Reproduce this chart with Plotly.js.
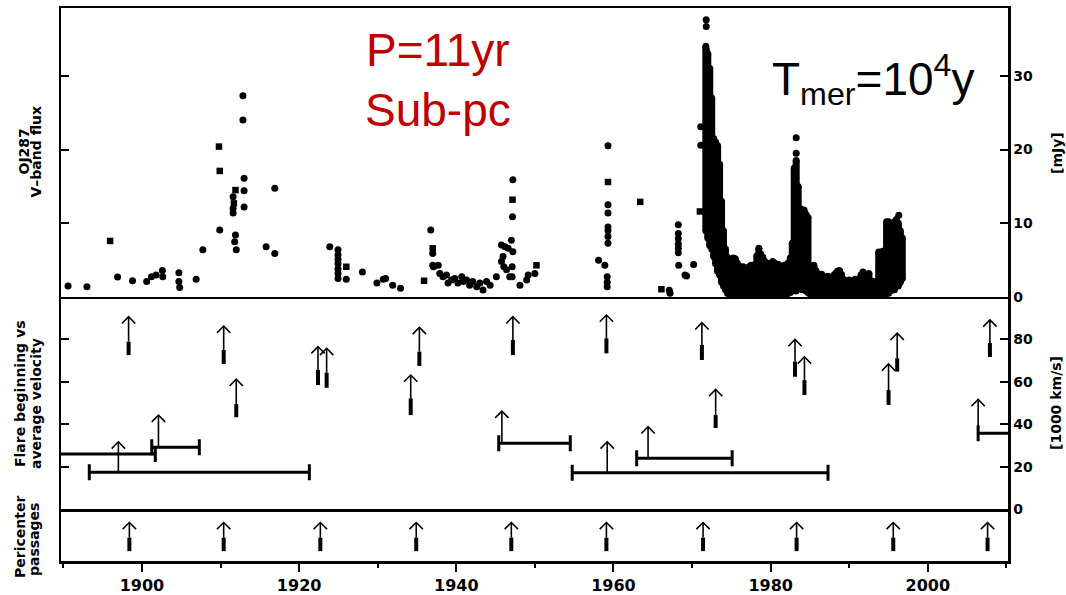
<!DOCTYPE html>
<html><head><meta charset="utf-8">
<script src="https://cdn.plot.ly/plotly-3.0.1.min.js"></script>
<style>html,body{margin:0;padding:0;background:#fff}#chart{width:1066px;height:595px}</style>
</head><body><div id="chart"></div>
<script>
// ---------- Top panel: OJ287 V-band flux [mJy] ----------
const fluxYear = [1890.6,1893.0,1896.9,1898.8,1900.6,1901.2,1901.8,1902.6,1902.65,1904.7,1904.7,1904.8,1906.9,1907.75,1909.9,
  1911.6,1911.6,1911.6,1911.9,1911.8,1912.0,1912.85,1912.85,1913.0,1913.0,1913.0,1915.8,1916.9,1916.9,
  1923.9,1924.95,1924.95,1924.95,1924.95,1924.95,1924.95,1924.95,1926.0,1928.05,1929.9,1930.7,1931.0,1931.9,1932.9,
  1936.75,1937.0,1937.0,1937.1,1937.7,1937.9,1938.3,1938.75,1938.95,1939.4,1939.8,1940.2,1940.7,1940.9,1941.3,1941.7,1942.1,1942.6,1943.0,1943.4,1943.85,1944.3,
  1945.1,1945.75,1946.2,1946.6,1945.95,1945.75,1946.05,1946.4,1946.8,1947.0,1947.2,1947.15,1947.2,1947.1,1947.1,1948.1,1948.95,1949.15,1950.0,
  1958.1,1958.9,1959.3,1959.3,1959.3,1959.3,1959.3,1959.3,1959.3,1959.2,1959.2,1959.2,
  1967.2,1967.1,1968.25,1968.25,1968.25,1968.25,1968.25,1968.25,1968.3,1969.1,1969.3,1970.2,
  1971.1,1971.1,1971.8,1971.8,1971.8,1983.25,1983.25,1996.3];
const fluxVal = [1.5,1.4,2.7,2.2,2.1,2.75,3.0,3.6,2.75,3.3,2.1,1.3,2.4,6.4,9.1,
  13.6,12.0,11.4,8.4,7.5,6.4,27.3,24.0,16.1,14.4,12.2,6.8,14.75,5.9,
  6.8,6.4,5.7,5.1,4.5,3.8,3.2,2.5,2.4,3.4,1.9,2.4,2.5,1.6,1.2,
  9.1,5.9,4.3,4.1,4.3,3.2,2.75,3.0,1.9,2.3,2.5,1.9,2.75,2.1,2.3,1.6,2.1,1.4,1.9,0.95,2.1,1.6,
  2.75,7.05,6.8,6.6,5.5,4.8,4.1,3.7,2.75,7.7,15.9,10.9,6.15,4.1,2.75,1.6,2.3,3.0,3.2,
  5.0,4.3,20.5,12.5,11.4,9.5,9.0,8.2,7.3,2.75,2.0,1.4,
  0.5,0.9,9.8,8.6,7.9,7.2,6.6,6.0,4.3,3.0,2.85,4.4,
  23.1,20.6,37.6,36.7,33.5,21.6,19.5,11.1];
const sqYear = [1895.95,1909.8,1909.9,1911.7,1911.9,1926.0,1935.9,1937.0,1947.15,1950.2,1959.3,1963.4,1966.1,1971.0];
const sqVal  = [7.6,20.4,17.1,12.7,14.5,4.1,2.2,6.6,13.2,4.3,15.6,12.9,1.05,11.6];
// densely monitored seasons 1971-1997: lowest / highest flux per quarter-year
const denseYear = [1971.75,1972.0,1972.25,1972.5,1972.75,1973.0,1973.25,1973.5,1973.75,1974.0,1974.25,1974.5,1974.75,
  1975.0,1975.25,1975.5,1975.75,1976.0,1976.25,1976.5,1976.75,1977.0,1977.25,1977.5,1977.75,1978.0,1978.25,1978.5,1978.75,
  1979.0,1979.25,1979.5,1979.75,1980.0,1980.25,1980.5,1980.75,1981.0,1981.25,1981.5,1981.75,1982.0,1982.25,1982.5,1982.75,
  1983.0,1983.25,1983.5,1983.75,1984.0,1984.25,1984.5,1984.75,1985.0,1985.25,1985.5,1985.75,1986.0,1986.25,1986.5,1986.75,
  1987.0,1987.25,1987.5,1987.75,1988.0,1988.25,1988.5,1988.75,1989.0,1989.25,1989.5,1989.75,1990.0,1990.25,1990.5,1990.75,
  1991.0,1991.25,1991.5,1991.75,1992.0,1992.25,1992.5,1992.75,1993.0,1993.25,1993.5,1993.75,1994.0,1994.25,1994.5,1994.75,
  1995.0,1995.25,1995.5,1995.75,1996.0,1996.25,1996.5,1996.75];
const denseHi = [34.0,33.0,31.0,27.0,21.5,21.0,20.5,18.0,13.0,9.0,6.5,5.4,5.0,
  4.8,5.3,5.2,4.6,4.2,3.9,4.1,3.7,3.9,4.1,4.3,4.0,4.4,5.6,6.6,5.8,
  5.4,4.8,4.6,4.2,4.5,4.8,4.6,4.1,4.4,4.0,3.8,4.3,4.1,4.6,5.3,7.3,
  17.5,18.5,15.0,12.0,11.5,11.8,11.2,10.8,4.0,4.1,4.3,3.6,3.2,2.9,3.1,2.7,
  2.5,2.8,2.4,2.6,2.9,3.2,3.5,3.6,3.1,2.4,2.2,2.0,2.3,1.9,2.2,2.4,
  2.0,2.3,3.0,3.4,3.1,2.8,3.2,2.2,1.9,2.1,2.0,6.1,6.0,6.2,6.0,10.2,
  10.2,10.0,6.0,10.2,10.5,10.0,9.0,8.0];
const denseLo = [9.0,8.0,7.0,6.5,5.5,4.5,3.5,3.0,2.0,1.5,1.0,0.5,0.3,
  0.2,0.4,0.2,0.3,0.5,0.3,0.2,0.4,0.2,0.5,0.3,0.4,0.2,0.5,0.4,0.3,
  0.5,0.3,0.2,0.4,0.3,0.5,0.2,0.4,0.3,0.5,0.2,0.4,0.3,0.5,0.6,0.8,
  1.0,0.8,1.2,1.5,1.0,1.2,0.8,0.6,0.4,0.3,0.2,0.4,0.3,0.5,0.2,0.4,
  0.3,0.4,0.2,0.5,0.3,0.2,0.4,0.3,0.5,0.3,0.2,0.4,0.3,0.5,0.2,0.3,
  0.4,0.2,0.3,0.5,0.3,0.2,0.4,0.3,0.2,0.4,0.3,0.5,0.3,0.4,0.3,0.5,
  0.5,0.8,1.0,1.0,1.5,1.5,2.0,2.5];

// ---------- Middle panel: flare beginning vs average velocity [1000 km/s] ----------
const flareYear  = [1898.3,1910.4,1912.0,1922.4,1923.5,1935.3,1934.2,1947.2,1959.1,1971.25,1973.0,1983.1,1984.3,1996.1,1995.0,2007.9,1897.0,1902.1,1945.8,1959.2,1964.4,2006.4];
const flareBase  = [72.6,68.4,43.3,58.5,57.2,67.5,44.3,72.6,73.4,70.3,38.2,62.4,53.8,64.8,49.1,71.7,17.3,29.1,31.0,17.1,23.9,35.7];
const flareThick = [78.9,75.0,49.5,65.6,64.3,74.2,52.2,79.7,80.5,77.4,44.3,69.5,60.8,71.1,56.1,78.3,17.3,29.1,31.0,17.1,23.9,35.7];
const flareTip   = [90.7,86.3,61.2,76.6,75.8,85.7,63.2,90.7,91.5,87.9,56.4,80.0,71.8,82.9,68.4,89.2,31.7,44.3,46.2,31.7,38.8,51.7];
const barLo  = [1885.0,1901.25,1893.3,1945.4,1954.75,1962.95,2006.4];
const barHi  = [1901.7,1907.3,1921.3,1954.5,1987.3,1975.1,2015.0];
const barVel = [25.9,29.1,17.3,31.0,17.1,23.9,35.7];

// ---------- Bottom panel: pericenter passages ----------
const periYear = [1898.4,1910.4,1922.7,1934.9,1947.0,1959.1,1971.4,1983.3,1995.6,2007.6];

// ---------- Axis ticks ----------
const xTicks = [1900,1920,1940,1960,1980,2000];
const xTickText = ['1900','1920','1940','1960','1980','2000'];
const xMinor = [1890,1910,1930,1950,1970,1990,2010];
const fluxTicks = [0,10,20,30];
const velTicks = [0,20,40,60,80];

// ---------- helpers ----------
function segs(xs, y0, y1) {
  const X = [], Y = [];
  xs.forEach((x, i) => { X.push(x, x, null); Y.push(y0[i], y1[i], null); });
  return {X, Y};
}
function chev(xs, tips, dx, dy) {
  const X = [], Y = [];
  xs.forEach((x, i) => { X.push(x - dx, x, x + dx, null); Y.push(tips[i] - dy, tips[i], tips[i] - dy, null); });
  return {X, Y};
}
const K = '#000';
const dense = segs(denseYear, denseLo, denseHi);
const fStem = segs(flareYear, flareThick, flareTip);
const fThick = segs(flareYear, flareBase, flareThick);
const fHead = chev(flareYear, flareTip, 0.85, 3.2);
const pB = periYear.map(() => 0.19), pT = periYear.map(() => 0.45), pTip = periYear.map(() => 0.74);
const pStem = segs(periYear, pT, pTip);
const pThick = segs(periYear, pB, pT);
const pHead = chev(periYear, pTip, 0.85, 0.127);

const traces = [
  {x: dense.X, y: dense.Y, xaxis: 'x', yaxis: 'y', mode: 'lines+markers', line: {color: K, width: 7},
   marker: {color: K, size: 7}, connectgaps: false, hoverinfo: 'skip'},
  {x: fluxYear, y: fluxVal, xaxis: 'x', yaxis: 'y', mode: 'markers', marker: {color: K, size: 7, symbol: 'circle'}},
  {x: sqYear, y: sqVal, xaxis: 'x', yaxis: 'y', mode: 'markers', marker: {color: K, size: 6.5, symbol: 'square'}},
  {x: barLo, y: barVel, xaxis: 'x2', yaxis: 'y2', mode: 'markers', marker: {color: 'rgba(0,0,0,0)', size: 1},
   error_x: {type: 'data', symmetric: false, array: barHi.map((h, i) => h - barLo[i]), arrayminus: barLo.map(() => 0),
     color: K, thickness: 3, width: 8}},
  {x: fStem.X, y: fStem.Y, xaxis: 'x2', yaxis: 'y2', mode: 'lines', line: {color: K, width: 1.6}},
  {x: fThick.X, y: fThick.Y, xaxis: 'x2', yaxis: 'y2', mode: 'lines', line: {color: K, width: 4}},
  {x: fHead.X, y: fHead.Y, xaxis: 'x2', yaxis: 'y2', mode: 'lines', line: {color: K, width: 1.6}},
  {x: pStem.X, y: pStem.Y, xaxis: 'x3', yaxis: 'y3', mode: 'lines', line: {color: K, width: 1.6}},
  {x: pThick.X, y: pThick.Y, xaxis: 'x3', yaxis: 'y3', mode: 'lines', line: {color: K, width: 4}},
  {x: pHead.X, y: pHead.Y, xaxis: 'x3', yaxis: 'y3', mode: 'lines', line: {color: K, width: 1.6}}
];

const xr = [1889.7, 2010.2];
const tickF = {family: 'DejaVu Sans', size: 14, weight: 'bold', color: K};
const baseX = {range: xr, showline: true, mirror: false, linewidth: 2.5, linecolor: K, showgrid: false, zeroline: false,
  ticks: '', showticklabels: false, fixedrange: true};
const baseY = {side: 'right', showline: true, mirror: 'ticks', linewidth: 2.5, linecolor: K, showgrid: false, zeroline: false,
  ticks: 'inside', ticklen: 8, tickwidth: 2, tickcolor: K, tickfont: tickF, tickmode: 'array', fixedrange: true};
const titleF = {family: 'DejaVu Sans', size: 14, weight: 'bold', color: K};
function ttl(text, px, py) {
  return {text: text, xref: 'paper', yref: 'paper', x: (px - 61) / 947, y: 1 - (py - 8) / 553,
    xanchor: 'center', yanchor: 'middle', textangle: -90, showarrow: false, font: titleF};
}
const bigF = {family: 'Liberation Sans, Arial, sans-serif', size: 46};
const layout = {
  width: 1066, height: 595, margin: {l: 61, r: 58, t: 8, b: 34}, showlegend: false,
  paper_bgcolor: '#fff', plot_bgcolor: '#fff',
  xaxis: Object.assign({}, baseX, {anchor: 'y', mirror: true}),
  xaxis2: Object.assign({}, baseX, {anchor: 'y2'}),
  xaxis3: Object.assign({}, baseX, {anchor: 'y3', ticks: 'outside', showticklabels: true, tickmode: 'array',
    tickvals: xTicks, ticktext: xTickText, ticklen: 8, tickwidth: 2, tickcolor: K,
    tickfont: {family: 'DejaVu Sans', size: 16, weight: 'bold', color: K},
    minor: {tickmode: 'array', tickvals: xMinor, ticks: 'outside', ticklen: 4, tickwidth: 2, tickcolor: K}}),
  yaxis: Object.assign({}, baseY, {anchor: 'x', domain: [0.4774, 1], range: [0, 39.2], tickvals: fluxTicks}),
  yaxis2: Object.assign({}, baseY, {anchor: 'x2', domain: [0.094, 0.4774], range: [0, 100], tickvals: velTicks}),
  yaxis3: Object.assign({}, baseY, {anchor: 'x3', domain: [0, 0.094], range: [0, 1], ticks: '', showticklabels: false}),
  annotations: [
    ttl('OJ287', 23.5, 152), ttl('V–band flux', 35.5, 152),
    ttl('Flare beginning vs', 20, 394), ttl('average velocity', 36, 404),
    ttl('Pericenter', 20, 537), ttl('passages', 34, 540),
    ttl('[mJy]', 1057, 153), ttl('[1000 km/s]', 1056, 403),
    {text: 'P=11yr', xref: 'paper', yref: 'paper', x: (438 - 61) / 947, y: 1 - (50 - 8) / 553, xanchor: 'center', yanchor: 'middle',
     showarrow: false, font: Object.assign({}, bigF, {color: '#C00000'})},
    {text: 'Sub-pc', xref: 'paper', yref: 'paper', x: (438 - 61) / 947, y: 1 - (110 - 8) / 553, xanchor: 'center', yanchor: 'middle',
     showarrow: false, font: Object.assign({}, bigF, {color: '#C00000'})},
    {text: 'T<sub>mer</sub>=10<sup>4</sup>y', xref: 'paper', yref: 'paper', x: (873 - 61) / 947, y: 1 - (80 - 8) / 553,
     xanchor: 'center', yanchor: 'middle', showarrow: false, font: Object.assign({}, bigF, {color: '#000'})}
  ]
};
Plotly.newPlot('chart', traces, layout, {displayModeBar: false, staticPlot: true});
</script></body></html>
